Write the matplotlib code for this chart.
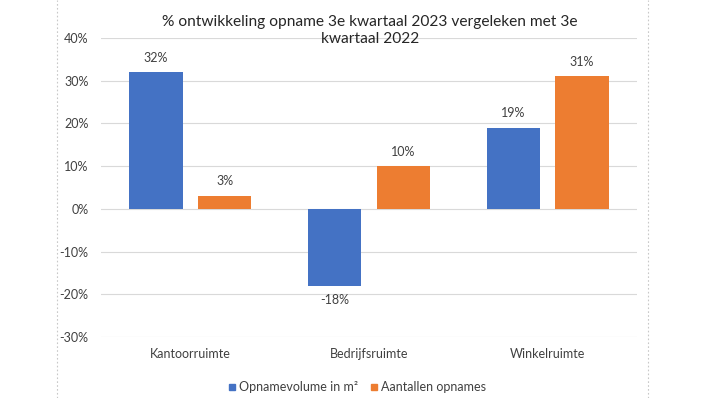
import numpy as np
import matplotlib.pyplot as plt
from matplotlib.lines import Line2D

categories = ['Kantoorruimte', 'Bedrijfsruimte', 'Winkelruimte']
volume = [32, -18, 19]
aantallen = [3, 10, 31]
series_names = ['Opnamevolume in m²', 'Aantallen opnames']
yticks = [-30, -20, -10, 0, 10, 20, 30, 40]

plt.rcParams['font.family'] = ['Lato', 'DejaVu Sans']

blue = '#4472C4'
orange = '#ED7D31'
txt = '#404040'

fig = plt.figure(figsize=(7.07, 3.98), dpi=100)
ax = fig.add_axes([101/707, 1-337/398, 536/707, 299/398])

x = np.arange(len(categories))
w = 0.30
off = 0.192
b1 = ax.bar(x - off, volume, w, color=blue, zorder=3)
b2 = ax.bar(x + off, aantallen, w, color=orange, zorder=3)

for bars, vals in ((b1, volume), (b2, aantallen)):
    for b, v in zip(bars, vals):
        yy = v + 2 if v >= 0 else v - 2
        ax.text(b.get_x() + b.get_width()/2, yy, f'{v}%', ha='center',
                va='bottom' if v >= 0 else 'top', fontsize=9, color=txt)

ax.set_xlim(-0.5, 2.5)
ax.set_ylim(-30, 40)
ax.set_yticks(yticks)
ax.set_yticklabels([f'{t}%' for t in yticks], fontsize=9, color=txt)
ax.set_xticks(x)
ax.set_xticklabels(categories, fontsize=9, color=txt)
ax.tick_params(length=0)
ax.tick_params(axis='y', pad=9)
ax.tick_params(axis='x', pad=8)
ax.grid(axis='y', color='#D9D9D9', linewidth=0.8, zorder=0)
for s in ax.spines.values():
    s.set_visible(False)

fig.text(370/707, 1-15/398, '% ontwikkeling opname 3e kwartaal 2023 vergeleken met 3e\nkwartaal 2022',
         ha='center', va='top', fontsize=11.2, color='#262626', linespacing=1.25)

handles = [Line2D([], [], marker='s', color=blue, linestyle='', markersize=5),
           Line2D([], [], marker='s', color=orange, linestyle='', markersize=5)]
fig.legend(handles, series_names, loc='center', bbox_to_anchor=(356/707, 1-387/398),
           ncol=2, frameon=False, fontsize=9, handletextpad=0.05, columnspacing=0.8,
           handlelength=1.0, labelcolor=txt)

for xv in (57/707, 648/707):
    fig.add_artist(Line2D([xv, xv], [0, 1], color='#C8C8C8', linestyle=(0, (1.5, 2)),
                          linewidth=0.8, transform=fig.transFigure))

fig.savefig('out.png', dpi=100)
